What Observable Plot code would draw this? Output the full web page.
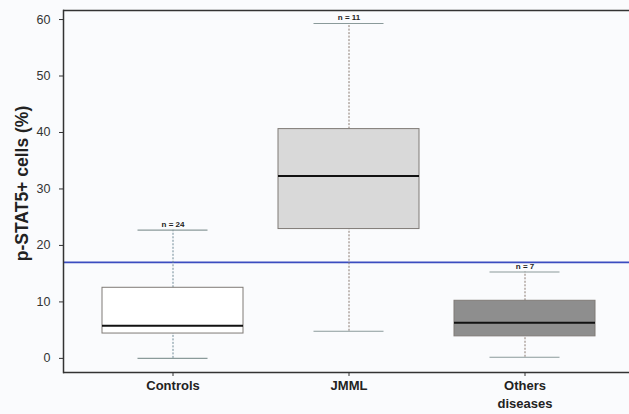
<!DOCTYPE html>
<html>
<head>
<meta charset="utf-8">
<script src="https://cdn.jsdelivr.net/npm/d3@7"></script>
<script src="https://cdn.jsdelivr.net/npm/@observablehq/plot@0.6"></script>
<style>
  html, body { margin: 0; padding: 0; background: #fafbfd; }
  #chart svg { display: block; background: #fafbfd; }
</style>
</head>
<body>
<div id="chart"></div>
<script>
const categories = ["Controls", "JMML", "Others diseases"];
const xLabels = ["Controls", "JMML", "Others\ndiseases"];
const whiskerLow = [0, 4.8, 0.2];
const q1 = [4.4, 22.9, 3.9];
const median = [5.8, 32.3, 6.3];
const q3 = [12.5, 40.6, 10.2];
const whiskerHigh = [22.7, 59.3, 15.3];
const nLabels = ["n = 24", "n = 11", "n = 7"];
const boxFills = ["#ffffff", "#d9d9d9", "#8e8e8e"];
const whiskerColors = ["#6f8a96", "#8a7a70", "#8a7a70"];
const threshold = 17;
const yTicks = [0, 10, 20, 30, 40, 50, 60];

const rows = categories.map((c, i) => ({
  cat: c, lo: whiskerLow[i], q1: q1[i], med: median[i], q3: q3[i], hi: whiskerHigh[i],
  n: nLabels[i], fill: boxFills[i], wc: whiskerColors[i]
}));

const chart = Plot.plot({
  width: 629,
  height: 414,
  marginLeft: 63,
  marginRight: 0,
  marginTop: 10,
  marginBottom: 42,
  style: { fontFamily: "Liberation Sans, Arial, sans-serif", color: "#333", background: "#fafbfd" },
  x: { type: "band", domain: categories, range: [66, 631], padding: 0.2, label: null },
  y: { domain: [-2.5, 61.6], label: null },
  color: { type: "identity" },
  marks: [
    Plot.ruleY([threshold], { stroke: "#3b4cc0", strokeWidth: 1.6 }),
    Plot.ruleX(rows, { x: "cat", y1: "lo", y2: "q1", stroke: "wc", strokeDasharray: "2,1.5", strokeWidth: 1 }),
    Plot.ruleX(rows, { x: "cat", y1: "q3", y2: "hi", stroke: "wc", strokeDasharray: "2,1.5", strokeWidth: 1 }),
    Plot.tickY(rows, { x: "cat", y: "lo", stroke: "#8a9a9a", strokeWidth: 1.2, insetLeft: 35.5, insetRight: 35.5 }),
    Plot.tickY(rows, { x: "cat", y: "hi", stroke: "#8a9a9a", strokeWidth: 1.2, insetLeft: 35.5, insetRight: 35.5 }),
    Plot.barY(rows, { x: "cat", y1: "q1", y2: "q3", fill: "fill", stroke: "#7f7a76", strokeWidth: 1 }),
    Plot.tickY(rows, { x: "cat", y: "med", stroke: "#111", strokeWidth: 2 }),
    Plot.text(rows, { x: "cat", y: "hi", text: "n", dy: -6, fontSize: 8, fontWeight: "bold", fill: "#222" }),
    Plot.ruleY([61.6], { stroke: "#333", strokeWidth: 1.5 }),
    Plot.ruleY([-2.5], { stroke: "#333", strokeWidth: 1.5 }),
    Plot.frame({ anchor: "left", stroke: "#333", strokeWidth: 1.5 }),
    Plot.axisY({ ticks: yTicks, tickSize: 4, tickPadding: 9, fontSize: 12.5, stroke: "#333", fill: "#333", label: null }),
    Plot.axisX({ tickSize: 4, tickPadding: 1, fontSize: 13, fontWeight: "bold", fill: "#222", stroke: "#333",
      tickFormat: (d) => xLabels[categories.indexOf(d)], label: null, lineHeight: 1.35 }),
    Plot.text(["p-STAT5+ cells (%)"], { frameAnchor: "left", textAnchor: "middle", dx: -41, dy: -8, rotate: -90, fontSize: 17.5, fontWeight: "bold", fill: "#222" })
  ]
});

document.getElementById("chart").appendChild(chart);
</script>
</body>
</html>
